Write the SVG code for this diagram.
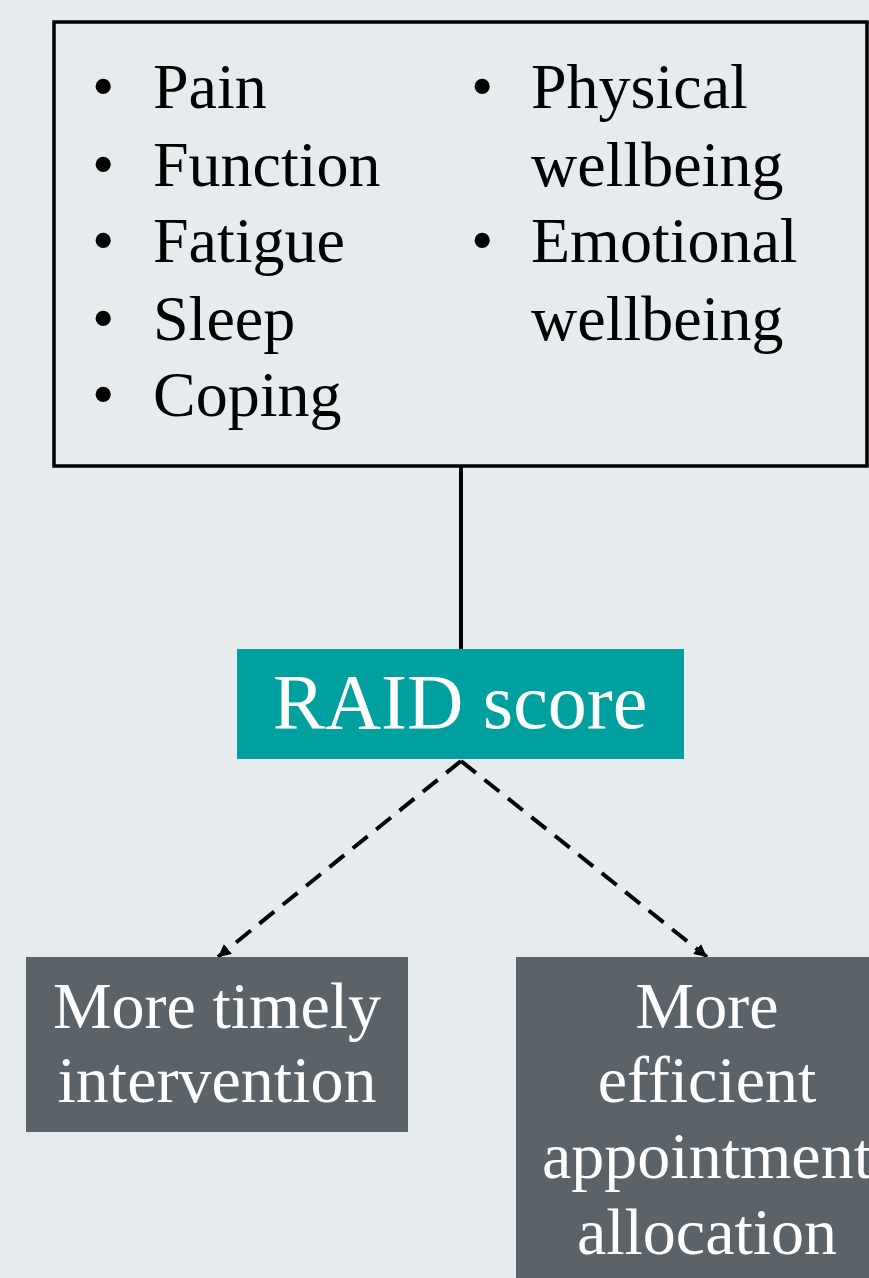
<svg xmlns="http://www.w3.org/2000/svg" width="869" height="1278" viewBox="0 0 869 1278">
  <defs>
    <style>
      .t { font-family: "Liberation Serif", "DejaVu Serif", serif; }
      .list { font-size: 64px; fill: #000; }
      .w { fill: #ffffff; text-anchor: middle; }
      .dash { fill: none; stroke: #000; stroke-width: 4; stroke-dasharray: 19 11; }
    </style>
    <marker id="arr" viewBox="0 0 10 10" refX="10" refY="5" markerWidth="3.2" markerHeight="3.2" markerUnits="strokeWidth" orient="auto">
      <path d="M0,0 L10,5 L0,10 Z" fill="#000"/>
    </marker>
  </defs>
  <rect x="0" y="0" width="869" height="1278" fill="#e6ebed"/>

  <g id="connectors">
    <line x1="461" y1="466" x2="461" y2="650" stroke="#000" stroke-width="4"/>
    <line class="dash" x1="461" y1="761" x2="218" y2="957" marker-end="url(#arr)"/>
    <line class="dash" x1="461" y1="761" x2="707" y2="957" marker-end="url(#arr)"/>
  </g>

  <g id="factors">
    <rect x="54" y="22" width="813" height="444" fill="#e6ebed" stroke="#000" stroke-width="3.5"/>
    <g class="t list">
      <text x="92" y="108">•</text>
      <text x="153" y="108">Pain</text>
      <text x="92" y="186">•</text>
      <text x="153" y="186">Function</text>
      <text x="92" y="262">•</text>
      <text x="153" y="262">Fatigue</text>
      <text x="92" y="340">•</text>
      <text x="153" y="340">Sleep</text>
      <text x="92" y="416">•</text>
      <text x="153" y="416">Coping</text>
      <text x="471" y="108">•</text>
      <text x="531" y="108">Physical</text>
      <text x="531" y="186">wellbeing</text>
      <text x="471" y="262">•</text>
      <text x="531" y="262">Emotional</text>
      <text x="531" y="340">wellbeing</text>
    </g>
  </g>

  <g id="raid">
    <rect x="237" y="649" width="447" height="110" fill="#009fa0"/>
    <text class="t w" x="460" y="728" font-size="78">RAID score</text>
  </g>

  <g id="timely">
    <rect x="26" y="957" width="382" height="175" fill="#5b6369"/>
    <text class="t w" x="217" y="1028" font-size="66">More timely</text>
    <text class="t w" x="217" y="1102" font-size="66">intervention</text>
  </g>

  <g id="efficient">
    <rect x="516" y="957" width="360" height="330" fill="#5b6369"/>
    <text class="t w" x="707" y="1028" font-size="66">More</text>
    <text class="t w" x="707" y="1102" font-size="66">efficient</text>
    <text class="t w" x="707" y="1178" font-size="66">appointment</text>
    <text class="t w" x="707" y="1254" font-size="66">allocation</text>
  </g>
</svg>
